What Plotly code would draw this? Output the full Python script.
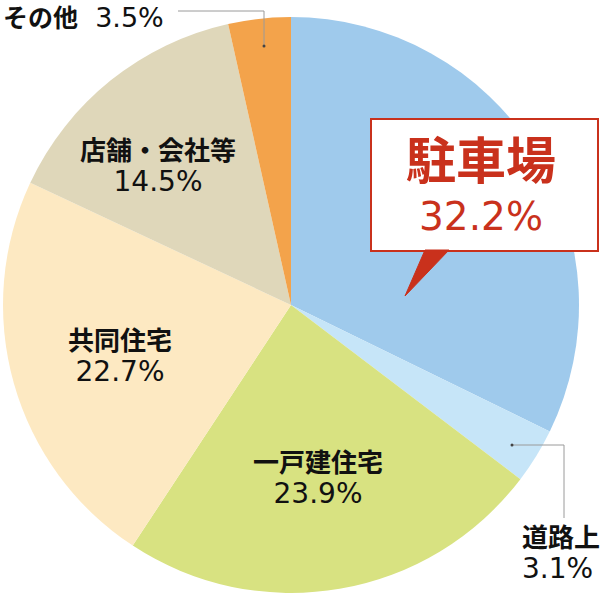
import plotly.graph_objects as go

categories = ["駐車場", "道路上", "一戸建住宅", "共同住宅", "店舗・会社等", "その他"]
values = [32.2, 3.1, 23.9, 22.7, 14.5, 3.5]
colors = ["#9FCAEC", "#C6E5F8", "#D8E281", "#FDE9C2", "#DFD7BA", "#F3A34B"]

W, H = 601, 595


def px(x):
    return x / W


def py(y):
    return 1 - y / H


fig = go.Figure(go.Pie(
    labels=categories,
    values=values,
    sort=False,
    direction="clockwise",
    rotation=0,
    marker=dict(colors=colors, line=dict(width=0)),
    textinfo="none",
    hoverinfo="label+percent",
    showlegend=False,
    domain=dict(x=[px(3), px(579)], y=[py(593), py(17)]),
))

CJK = "Noto Sans CJK JP"
NUMF = "DejaVu Sans"
RED = "#C9311C"

annotations = []


def pct(v):
    return f"{v:.1f}%"


def two_line(name, value, x, y, cjk_size=26, num_size=28, base=24, color="#111111",
             xanchor="center", align="center"):
    text = (f"<b><span style='font-size:{cjk_size}px'>{name}</span></b><br>"
            f"<span style='font-family:{NUMF};font-size:{num_size}px'>{pct(value)}</span>")
    annotations.append(dict(
        text=text, x=px(x), y=py(y), xref="paper", yref="paper",
        xanchor=xanchor, yanchor="middle", align=align, showarrow=False,
        font=dict(family=CJK, size=base, color=color),
    ))


# inside labels
two_line(categories[4], values[4], 158, 164)
two_line(categories[3], values[3], 120, 354)
two_line(categories[2], values[2], 318, 476)

# その他 (single line)
annotations.append(dict(
    text=(f"<b><span style='font-size:25px'>{categories[5]}</span></b>"
          f"<span style='font-family:{NUMF};font-size:27px'>  {pct(values[5])}</span>"),
    x=px(1), y=py(16), xref="paper", yref="paper", xanchor="left", yanchor="middle",
    showarrow=False, font=dict(family=CJK, size=22, color="#111111"),
))

# 道路上
two_line(categories[1], values[1], 520, 551, xanchor="left", align="left")

# callout text
two_line(categories[0], values[0], 481, 180, cjk_size=50, num_size=39, base=39, color=RED)

shapes = []
# callout box
shapes.append(dict(type="rect", xref="paper", yref="paper",
                   x0=px(371), x1=px(598), y0=py(251), y1=py(119),
                   fillcolor="white", line=dict(color=RED, width=2), layer="above"))
# tail
shapes.append(dict(type="path", xref="paper", yref="paper",
                   path=f"M {px(425)} {py(250)} L {px(405)} {py(296)} L {px(449)} {py(250)} Z",
                   fillcolor=RED, line=dict(color=RED, width=1), layer="above"))

# leader lines
GRAY = "#9A9A9A"
shapes.append(dict(type="path", xref="paper", yref="paper",
                   path=f"M {px(178)} {py(11)} L {px(264)} {py(11)} L {px(264)} {py(46)}",
                   line=dict(color=GRAY, width=1), layer="above"))
shapes.append(dict(type="path", xref="paper", yref="paper",
                   path=f"M {px(512)} {py(445)} L {px(564)} {py(445)} L {px(564)} {py(518)}",
                   line=dict(color=GRAY, width=1), layer="above"))
for (cx, cy) in [(264, 46), (512, 445)]:
    shapes.append(dict(type="circle", xref="paper", yref="paper",
                       x0=px(cx - 1.5), x1=px(cx + 1.5), y0=py(cy + 1.5), y1=py(cy - 1.5),
                       fillcolor="#444444", line=dict(width=0), layer="above"))

fig.update_layout(
    width=W, height=H,
    margin=dict(l=0, r=0, t=0, b=0),
    paper_bgcolor="white", plot_bgcolor="white",
    annotations=annotations,
    shapes=shapes,
)

fig.write_html("out.html", config={"displayModeBar": False},
               post_script="document.body.style.margin='0';document.body.style.overflow='hidden';")
